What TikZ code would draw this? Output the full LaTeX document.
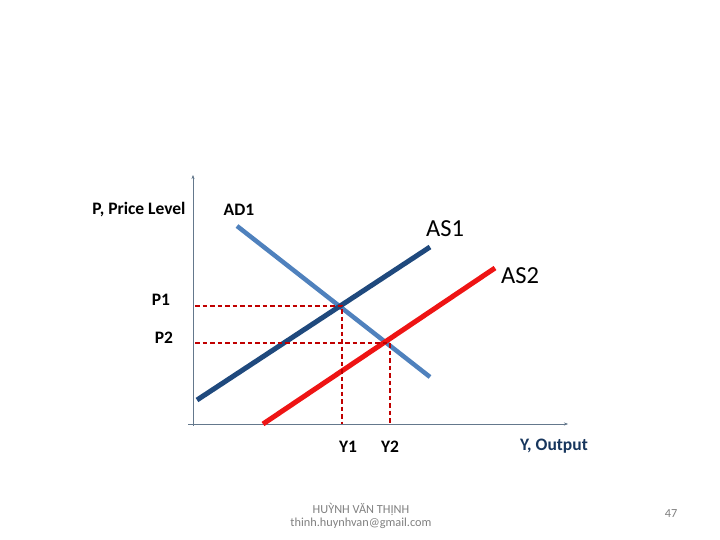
\documentclass[tikz,border=0pt]{standalone}
\usepackage{fontspec}
\setmainfont{Carlito}
\usepackage{xcolor}
\usetikzlibrary{arrows.meta}
\definecolor{adblue}{RGB}{79,129,189}
\definecolor{asnavy}{RGB}{31,73,125}
\definecolor{asred}{RGB}{238,20,20}
\definecolor{guide}{RGB}{192,0,0}
\definecolor{axisgray}{RGB}{100,120,140}
\definecolor{outnavy}{RGB}{23,54,93}

\begin{document}
\begin{tikzpicture}[x=1pt,y=-1pt,>={Stealth[length=4pt,width=3pt]},
  lbl/.style={font=\fontsize{17.5}{20}\selectfont\bfseries,inner sep=0pt},
  biglbl/.style={font=\fontsize{24.5}{28}\selectfont,inner sep=0pt},
  foot/.style={font=\fontsize{12.3}{13}\selectfont,text=gray,inner sep=0pt,align=center},
  curve/.style={line width=5pt},
  guideline/.style={guide,line width=1.2pt,dash pattern=on 4.5pt off 3pt}]
\useasboundingbox (0,0) rectangle (720,540);
% axes
\coordinate (origin) at (193,424);
\coordinate (ytop) at (193,175);
\coordinate (xend) at (568,424);
\draw[axisgray,->] (193,426) -- (ytop);
\draw[axisgray,->] (188,424) -- (xend);
% curves
\coordinate (ad1a) at (237,226); \coordinate (ad1b) at (430,377);
\coordinate (as1a) at (197,400); \coordinate (as1b) at (430,247);
\coordinate (as2a) at (263,424); \coordinate (as2b) at (495,268);
\draw[curve,adblue,line width=4.5pt] (ad1a) -- (ad1b);
\draw[curve,asnavy] (as1a) -- (as1b);
\draw[curve,asred] (as2a) -- (as2b);
% equilibria
\coordinate (e1) at (342,306);
\coordinate (e2) at (390,343);
\draw[guideline] (195,306) -- (e1) -- (342,424);
\draw[guideline] (195,343) -- (e2) -- (390,424);
% labels
\node[lbl] (plabel) at (139,210) {P, Price Level};
\node[lbl] (adlabel) at (239,210) {AD1};
\node[biglbl] (as1label) at (445,229) {AS1};
\node[biglbl] (as2label) at (520,276) {AS2};
\node[lbl] (p1) at (161,300) {P1};
\node[lbl] (p2) at (164,338) {P2};
\node[lbl] (y1) at (348,447) {Y1};
\node[lbl] (y2) at (390,447) {Y2};
\node[lbl,text=outnavy] (ylabel) at (554,446) {Y, Output};
\node[foot] (author) at (361,516) {HUỲNH VĂN THỊNH\\thinh.huynhvan@gmail.com};
\node[foot] (page) at (671,514) {47};
\end{tikzpicture}
\end{document}
